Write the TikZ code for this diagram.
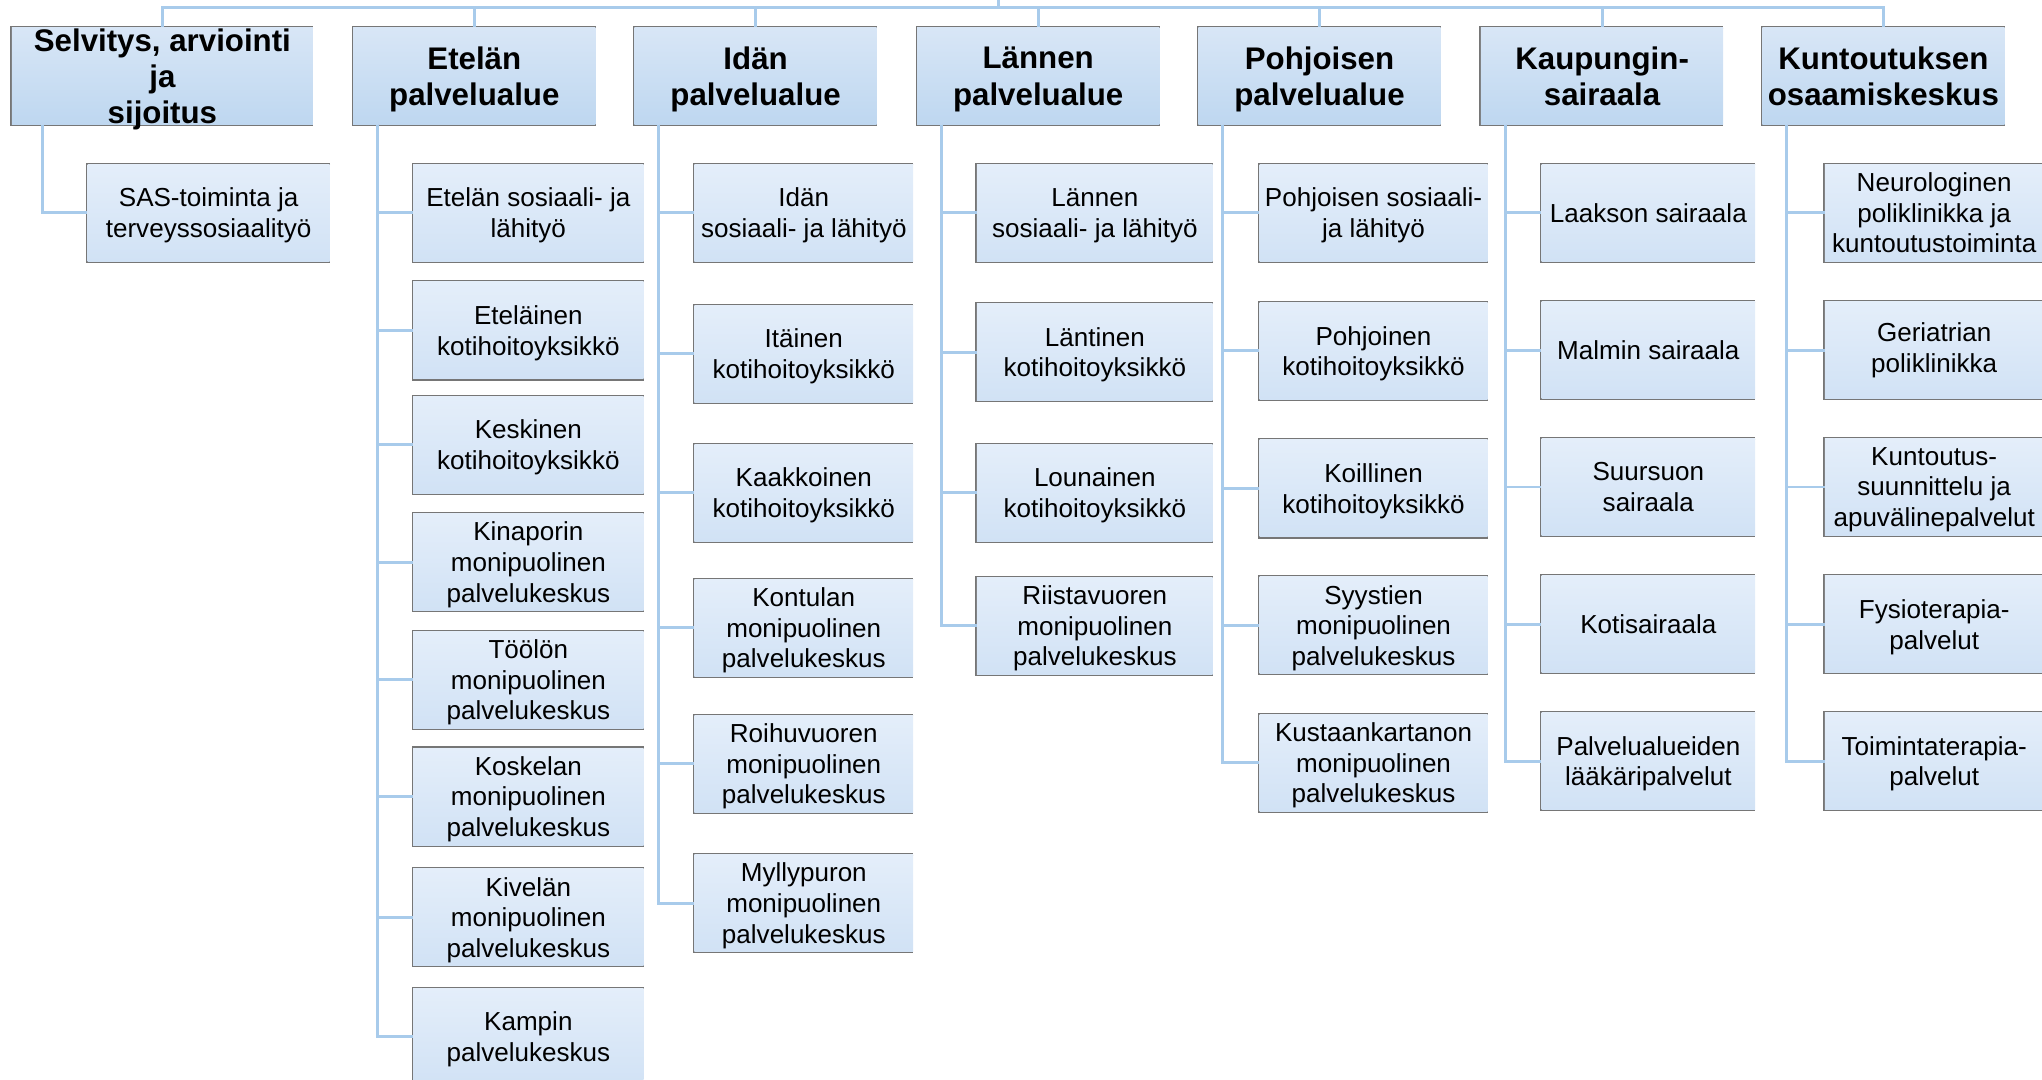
\documentclass[tikz,border=0pt]{standalone}
\usepackage{fontspec}
\setmainfont{Liberation Sans}
\usepackage{tikz}

\definecolor{connblue}{RGB}{168,203,235}
\definecolor{boxgray}{RGB}{118,118,118}
\definecolor{areatop}{RGB}{216,230,246}
\definecolor{areabot}{RGB}{190,215,240}
\definecolor{unittop}{RGB}{228,238,250}
\definecolor{unitbot}{RGB}{209,226,245}

% last line without descender depth
\newcommand{\nodesc}[1]{\raisebox{0pt}[\height][0pt]{#1}}

\tikzset{
    conn/.style={draw=connblue, line width=2.3pt},
    boxedge/.style={draw=boxgray, line width=2pt},
    threeside/.style={append after command={\pgfextra{%
        \draw[boxedge] (\tikzlastnode.north east) -- (\tikzlastnode.north west)
            -- (\tikzlastnode.south west) -- (\tikzlastnode.south east);}}},
    areabox/.style={anchor=north west, inner sep=0pt, minimum width=186pt,
        minimum height=74.5pt, top color=areatop, bottom color=areabot,
        align=center, font=\bfseries\fontsize{24}{28}\selectfont, threeside},
    unitbox/.style={anchor=north west, inner sep=0pt, minimum width=#1,
        minimum height=74.5pt, top color=unittop, bottom color=unitbot,
        align=center, font=\fontsize{20}{23.5}\selectfont, threeside},
}

\begin{document}
\begin{tikzpicture}[x=1pt,y=-1pt]
    \useasboundingbox (0,0) rectangle (1568,829.3);

    % palvelualueet
    \node[areabox, minimum width=231pt,
        label={[align=center, font=\bfseries\fontsize{24}{27.5}\selectfont]center:{Selvitys, arviointi\\ja\\\nodesc{sijoitus}}}]
        (sel) at (9,21) {};
    \node[areabox] (ete) at (271,21) {Etelän\\\nodesc{palvelualue}};
    \node[areabox] (ida) at (487,21) {Idän\\\nodesc{palvelualue}};
    \node[areabox] (lan) at (704,21) {Lännen\\\nodesc{palvelualue}};
    \node[areabox] (poh) at (920,21) {Pohjoisen\\\nodesc{palvelualue}};
    \node[areabox] (kau) at (1137,21) {Kaupungin-\\sairaala};
    \node[areabox] (kun) at (1353,21) {Kuntoutuksen\\osaamiskeskus};

    \coordinate (root) at (767,-20);
    \coordinate (hub) at (767,5.5);
    \draw[conn] (root) -- (hub);
    \foreach \p in {sel,ete,ida,lan,poh,kau,kun}
        \draw[conn] (hub) -| (\p.north);

    % yksiköt
    \node[unitbox=186pt] (sel1) at (67,126) {SAS-toiminta ja\\\nodesc{terveyssosiaalityö}};

    \node[unitbox=177pt] (ete1) at (317,126) {Etelän sosiaali- ja\\\nodesc{lähityö}};
    \node[unitbox=177pt] (ete2) at (317,216.3) {Eteläinen\\\nodesc{kotihoitoyksikkö}};
    \node[unitbox=177pt] (ete3) at (317,304.1) {Keskinen\\\nodesc{kotihoitoyksikkö}};
    \node[unitbox=177pt] (ete4) at (317,394.2) {Kinaporin\\monipuolinen\\\nodesc{palvelukeskus}};
    \node[unitbox=177pt] (ete5) at (317,484.4) {Töölön\\monipuolinen\\\nodesc{palvelukeskus}};
    \node[unitbox=177pt] (ete6) at (317,574.2) {Koskelan\\monipuolinen\\\nodesc{palvelukeskus}};
    \node[unitbox=177pt] (ete7) at (317,666.9) {Kivelän\\monipuolinen\\\nodesc{palvelukeskus}};
    \node[unitbox=177pt] (ete8) at (317,758.5) {Kampin\\\nodesc{palvelukeskus}};

    \node[unitbox=168pt] (ida1) at (533,126) {Idän\\\nodesc{sosiaali- ja lähityö}};
    \node[unitbox=168pt] (ida2) at (533,234.2) {Itäinen\\\nodesc{kotihoitoyksikkö}};
    \node[unitbox=168pt] (ida3) at (533,341) {Kaakkoinen\\\nodesc{kotihoitoyksikkö}};
    \node[unitbox=168pt] (ida4) at (533,444.7) {Kontulan\\monipuolinen\\\nodesc{palvelukeskus}};
    \node[unitbox=168pt] (ida5) at (533,549) {Roihuvuoren\\monipuolinen\\\nodesc{palvelukeskus}};
    \node[unitbox=168pt] (ida6) at (533,656) {Myllypuron\\monipuolinen\\\nodesc{palvelukeskus}};

    \node[unitbox=181pt] (lan1) at (750,126) {Lännen\\\nodesc{sosiaali- ja lähityö}};
    \node[unitbox=181pt] (lan2) at (750,233) {Läntinen\\\nodesc{kotihoitoyksikkö}};
    \node[unitbox=181pt] (lan3) at (750,341) {Lounainen\\\nodesc{kotihoitoyksikkö}};
    \node[unitbox=181pt] (lan4) at (750,443) {Riistavuoren\\monipuolinen\\\nodesc{palvelukeskus}};

    \node[unitbox=175pt] (poh1) at (967,126) {Pohjoisen sosiaali-\\\nodesc{ja lähityö}};
    \node[unitbox=175pt] (poh2) at (967,232) {Pohjoinen\\\nodesc{kotihoitoyksikkö}};
    \node[unitbox=175pt] (poh3) at (967,337.6) {Koillinen\\\nodesc{kotihoitoyksikkö}};
    \node[unitbox=175pt] (poh4) at (967,442.7) {Syystien\\monipuolinen\\\nodesc{palvelukeskus}};
    \node[unitbox=175pt] (poh5) at (967,548.3) {Kustaankartanon\\monipuolinen\\\nodesc{palvelukeskus}};

    \node[unitbox=164pt] (kau1) at (1183.5,126) {Laakson sairaala};
    \node[unitbox=164pt] (kau2) at (1183.5,231.5) {Malmin sairaala};
    \node[unitbox=164pt] (kau3) at (1183.5,336.5) {Suursuon\\sairaala};
    \node[unitbox=164pt] (kau4) at (1183.5,441.9) {Kotisairaala};
    \node[unitbox=164pt] (kau5) at (1183.5,546.9) {Palvelualueiden\\\nodesc{lääkäripalvelut}};

    \node[unitbox=168pt] (kun1) at (1401,126) {Neurologinen\\poliklinikka ja\\kuntoutustoiminta};
    \node[unitbox=168pt] (kun2) at (1401,231.5) {Geriatrian\\poliklinikka};
    \node[unitbox=168pt] (kun3) at (1401,336.5) {Kuntoutus-\\suunnittelu ja\\\nodesc{apuvälinepalvelut}};
    \node[unitbox=168pt] (kun4) at (1401,441.9) {Fysioterapia-\\\nodesc{palvelut}};
    \node[unitbox=168pt] (kun5) at (1401,546.9) {Toimintaterapia-\\\nodesc{palvelut}};

    % yhdysviivat
    \foreach \p/\dx/\kids in {sel/23.6/{sel1},
            ete/19/{ete1,ete2,ete3,ete4,ete5,ete6,ete7,ete8},
            ida/19/{ida1,ida2,ida3,ida4,ida5,ida6},
            lan/19/{lan1,lan2,lan3,lan4},
            poh/19/{poh1,poh2,poh3,poh4,poh5},
            kau/19/{kau1,kau2,kau3,kau4,kau5},
            kun/19/{kun1,kun2,kun3,kun4,kun5}}
        \foreach \c in \kids
            \draw[conn] ([xshift=\dx pt]\p.south west) |- (\c.west);
\end{tikzpicture}
\end{document}
